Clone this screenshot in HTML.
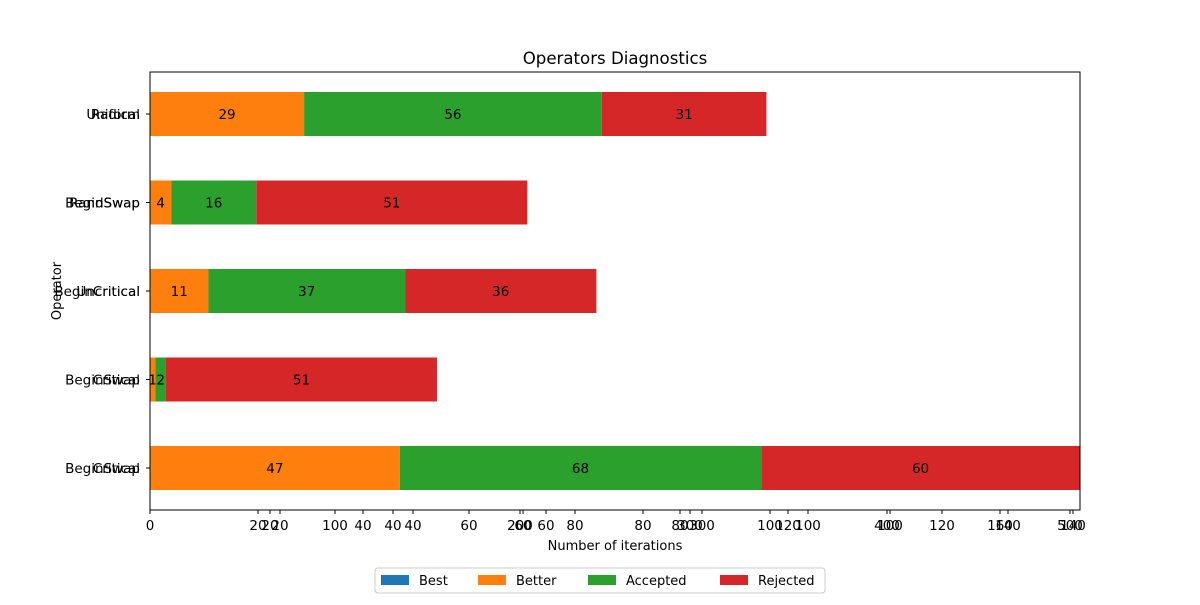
<!DOCTYPE html>
<html><head><meta charset="utf-8"><style>
body{margin:0;width:1200px;height:600px;background:#fff;font-family:"Liberation Sans","DejaVu Sans",sans-serif;overflow:hidden}
</style></head><body>
<svg width="1200" height="600" id="svg" font-family="DejaVu Sans, Liberation Sans, sans-serif">
<text x="615" y="64" text-anchor="middle" font-size="16.6">Operators Diagnostics</text>
<g id="bars"></g>
<rect x="150" y="72" width="930" height="438" fill="none" stroke="#000" stroke-width="1"/>
<g id="xt"></g><g id="yt"></g>
<text x="615" y="550" text-anchor="middle" font-size="13">Number of iterations</text>
<text x="61" y="291" text-anchor="middle" font-size="13" transform="rotate(-90 61 291)">Operator</text>
<g>
<rect x="375" y="568" width="450" height="25" fill="#fff" stroke="#ccc" rx="3"/>
<g id="leg"></g>
</g>
</svg>
<script>
const categories=[["Uniform","Radical"],["BeginSwap","RandSwap"],["BeginCritical","Uncritical"],["BeginSwap","Critical"],["BeginSwap","Critical"]];
const best=[0,0,0,0,0];
const better=[29,4,11,1,47];
const accepted=[56,16,37,2,68];
const rejected=[31,51,36,51,60];
const seriesNames=["Best","Better","Accepted","Rejected"];
const colors=["#1f77b4","#ff7f0e","#2ca02c","#d62728"];
const xTickVals=[0,20,20,20,100,40,40,40,60,200,60,60,80,80,80,300,300,100,120,100,400,100,120,160,140,500,140];
const xTickPos=[150,258,270,280,335,363,393,413,469,520,523,546,575,643,680,690,702,770,788,808,887,890,942,1000,1008,1070,1073];
const NS="http://www.w3.org/2000/svg";
const x0=150,xmax=175,pw=930;
const sx=v=>x0+v/xmax*pw;
const yc=i=>114+i*88.5;
const bars=document.getElementById('bars');
const series=[best,better,accepted,rejected];
categories.forEach((c,i)=>{
 let acc=0;
 series.forEach((s,k)=>{
  const v=s[i]; if(v<=0){return;}
  const r=document.createElementNS(NS,'rect');
  r.setAttribute('x',sx(acc));r.setAttribute('width',sx(acc+v)-sx(acc));
  r.setAttribute('y',yc(i)-22);r.setAttribute('height',44);r.setAttribute('fill',colors[k]);
  
  
  bars.appendChild(r);
  const t=document.createElementNS(NS,'text');
  t.setAttribute('x',(sx(acc)+sx(acc+v))/2);t.setAttribute('y',yc(i)+5);
  t.setAttribute('text-anchor','middle');t.setAttribute('font-size','13.5');t.textContent=v;
  
  
  bars.appendChild(t);
  acc+=v;
 });
});
const yt=document.getElementById('yt');
categories.forEach((c,i)=>{
 const l=document.createElementNS(NS,'line');
 l.setAttribute('x1',146);l.setAttribute('x2',150);l.setAttribute('y1',yc(i));l.setAttribute('y2',yc(i));l.setAttribute('stroke','#000');
 yt.appendChild(l);
 c.forEach(name=>{
  const t=document.createElementNS(NS,'text');
  t.setAttribute('x',140);t.setAttribute('y',yc(i)+5);t.setAttribute('text-anchor','end');t.setAttribute('font-size','13.5');
  t.textContent=name;
  
  
  yt.appendChild(t);
 });
});
const xt=document.getElementById('xt');
xTickVals.forEach((v,i)=>{
 const p=xTickPos[i];
 const l=document.createElementNS(NS,'line');
 l.setAttribute('x1',p);l.setAttribute('x2',p);l.setAttribute('y1',510);l.setAttribute('y2',514);l.setAttribute('stroke','#000');
 xt.appendChild(l);
 const t=document.createElementNS(NS,'text');
 t.setAttribute('x',p);t.setAttribute('y',530);t.setAttribute('text-anchor','middle');t.setAttribute('font-size','13.5');t.textContent=v;
 
 
 xt.appendChild(t);
});
const leg=document.getElementById('leg');
const lx=[381,478,588,720];
seriesNames.forEach((n,k)=>{
 const r=document.createElementNS(NS,'rect');
 r.setAttribute('x',lx[k]);r.setAttribute('y',575);r.setAttribute('width',28);r.setAttribute('height',10);r.setAttribute('fill',colors[k]);
 
 
 leg.appendChild(r);
 const t=document.createElementNS(NS,'text');
 t.setAttribute('x',lx[k]+38);t.setAttribute('y',585);t.setAttribute('font-size','13');t.textContent=n;
 
 
 leg.appendChild(t);
});
</script>
</body></html>
